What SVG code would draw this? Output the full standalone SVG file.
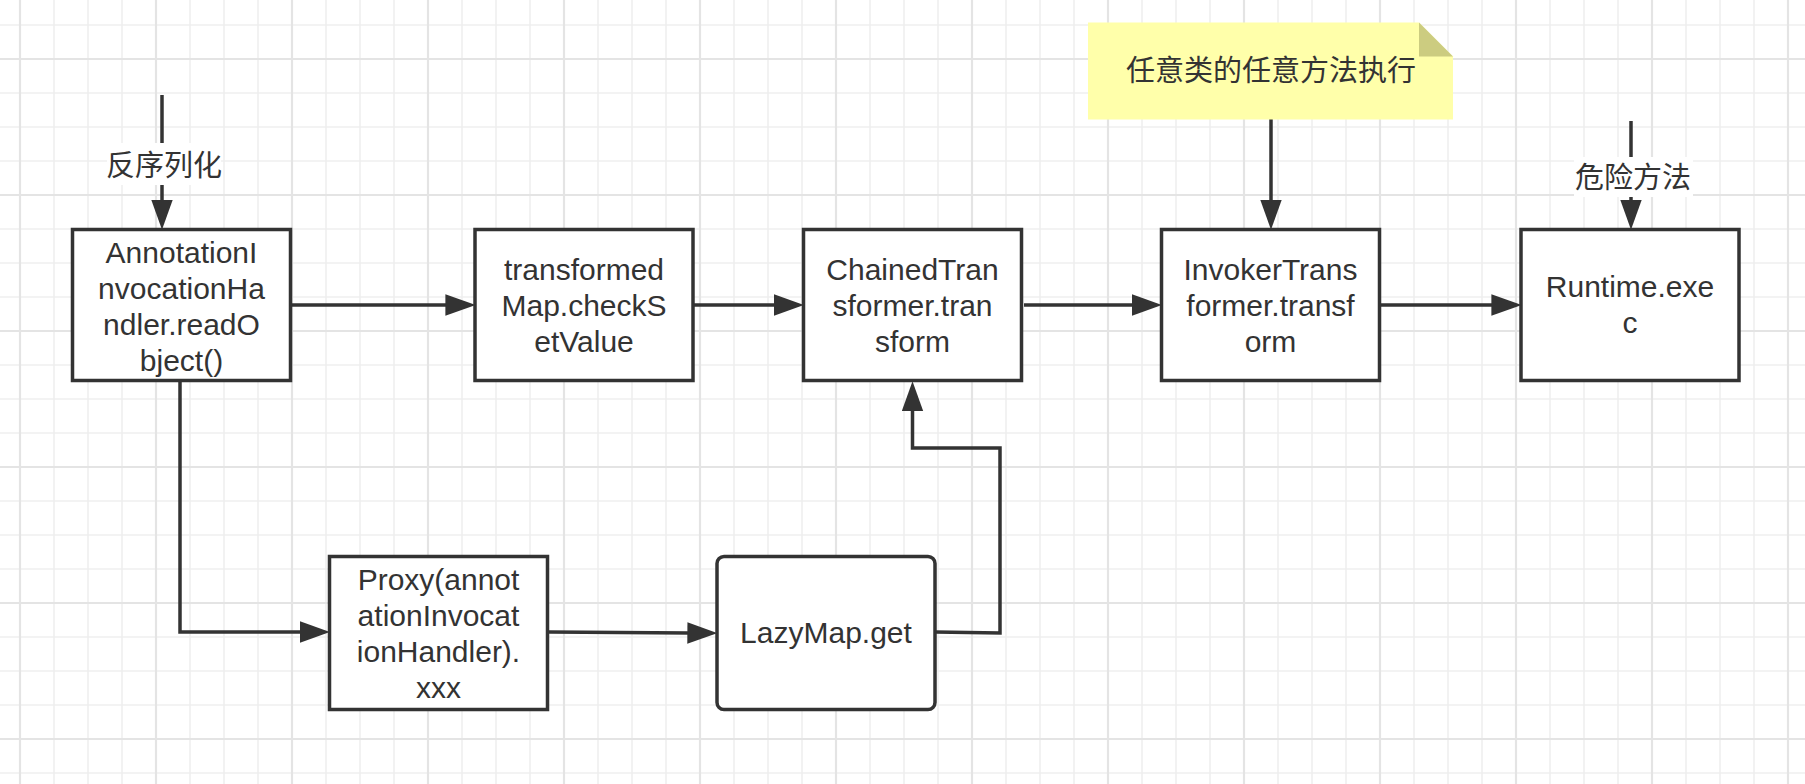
<svg xmlns="http://www.w3.org/2000/svg" width="1805" height="784" viewBox="0 0 1805 784">
<style>
.box{fill:#ffffff;stroke:#333333;stroke-width:3.5}
.t{font-family:"Liberation Sans",Arial,"Noto Sans CJK SC",sans-serif;font-size:30px;fill:#333333;text-anchor:middle}
.cj{font-family:"Noto Sans CJK SC","Noto Sans CJK JP",sans-serif;font-size:29px;fill:#333333;text-anchor:middle}
.ln{fill:none;stroke:#333333;stroke-width:3.5;stroke-linejoin:miter}
.lbg{fill:#ffffff}
</style>
<defs>
<pattern id="gmin" patternUnits="userSpaceOnUse" x="3" y="8" width="34" height="34">
<path d="M17,0 V34 M0,17 H34" stroke="#efefef" stroke-width="1.6" fill="none"/>
</pattern>
<pattern id="gmaj" patternUnits="userSpaceOnUse" x="-48" y="-9" width="136" height="136">
<path d="M68,0 V136 M0,68 H136" stroke="#e4e4e4" stroke-width="2.2" fill="none"/>
</pattern>
<marker id="ah" markerUnits="userSpaceOnUse" markerWidth="30" markerHeight="22" viewBox="0 0 28 20" refX="2" refY="10" orient="auto">
<path d="M0,0 L28,10 L0,20 z" fill="#333333"/>
</marker>
</defs>
<rect width="1805" height="784" fill="#ffffff"/>
<rect width="1805" height="784" fill="url(#gmin)"/>
<rect width="1805" height="784" fill="url(#gmaj)"/>

<g id="connectors">
<path class="ln" d="M162,95 V202" marker-end="url(#ah)"/>
<path class="ln" d="M1271,119 V202" marker-end="url(#ah)"/>
<path class="ln" d="M1631,121 V202" marker-end="url(#ah)"/>
<path class="ln" d="M292,305 H447.5" marker-end="url(#ah)"/>
<path class="ln" d="M693,305 H776" marker-end="url(#ah)"/>
<path class="ln" d="M1024,305 H1134" marker-end="url(#ah)"/>
<path class="ln" d="M1381,305 H1493.5" marker-end="url(#ah)"/>
<path class="ln" d="M180,382 V632 H302" marker-end="url(#ah)"/>
<path class="ln" d="M549,632 L689.5,633" marker-end="url(#ah)"/>
<path class="ln" d="M935,632 L1000,633 V448 H912.5 V409" marker-end="url(#ah)"/>
<rect class="lbg" x="107" y="143" width="114" height="42"/>
<text class="cj" x="164" y="176">反序列化</text>
<rect class="lbg" x="1574" y="157" width="119" height="40"/>
<text class="cj" x="1633" y="188">危险方法</text>
</g>

<g id="note">
<polygon points="1088,22.5 1419,22.5 1453,56.5 1453,119.5 1088,119.5" fill="#ffffaa"/>
<polygon points="1419,22.5 1419,56.5 1453,56.5" fill="#cccc80"/>
<text class="cj" x="1271" y="81">任意类的任意方法执行</text>
</g>

<g id="n1">
<rect class="box" x="72.5" y="229.5" width="218" height="151"/>
<text class="t" x="181.5" y="263"><tspan x="181.5" y="263">AnnotationI</tspan><tspan x="181.5" y="299">nvocationHa</tspan><tspan x="181.5" y="335">ndler.readO</tspan><tspan x="181.5" y="371">bject()</tspan></text>
</g>

<g id="n2">
<rect class="box" x="475" y="229.5" width="218" height="151"/>
<text class="t" x="584" y="280"><tspan x="584" y="280">transformed</tspan><tspan x="584" y="316">Map.checkS</tspan><tspan x="584" y="352">etValue</tspan></text>
</g>

<g id="n3">
<rect class="box" x="803.5" y="229.5" width="218" height="151"/>
<text class="t" x="912.5" y="280"><tspan x="912.5" y="280">ChainedTran</tspan><tspan x="912.5" y="316">sformer.tran</tspan><tspan x="912.5" y="352">sform</tspan></text>
</g>

<g id="n4">
<rect class="box" x="1161.5" y="229.5" width="218" height="151"/>
<text class="t" x="1270.5" y="280"><tspan x="1270.5" y="280">InvokerTrans</tspan><tspan x="1270.5" y="316">former.transf</tspan><tspan x="1270.5" y="352">orm</tspan></text>
</g>

<g id="n5">
<rect class="box" x="1521" y="229.5" width="218" height="151"/>
<text class="t" x="1630" y="297"><tspan x="1630" y="297">Runtime.exe</tspan><tspan x="1630" y="333">c</tspan></text>
</g>

<g id="n6">
<rect class="box" x="329.5" y="556.5" width="218" height="153"/>
<text class="t" x="438.5" y="590"><tspan x="438.5" y="590">Proxy(annot</tspan><tspan x="438.5" y="626">ationInvocat</tspan><tspan x="438.5" y="662">ionHandler).</tspan><tspan x="438.5" y="698">xxx</tspan></text>
</g>

<g id="n7">
<rect class="box" x="717" y="556.5" width="218" height="153" rx="7" ry="7"/>
<text class="t" x="826" y="643">LazyMap.get</text>
</g>
</svg>
